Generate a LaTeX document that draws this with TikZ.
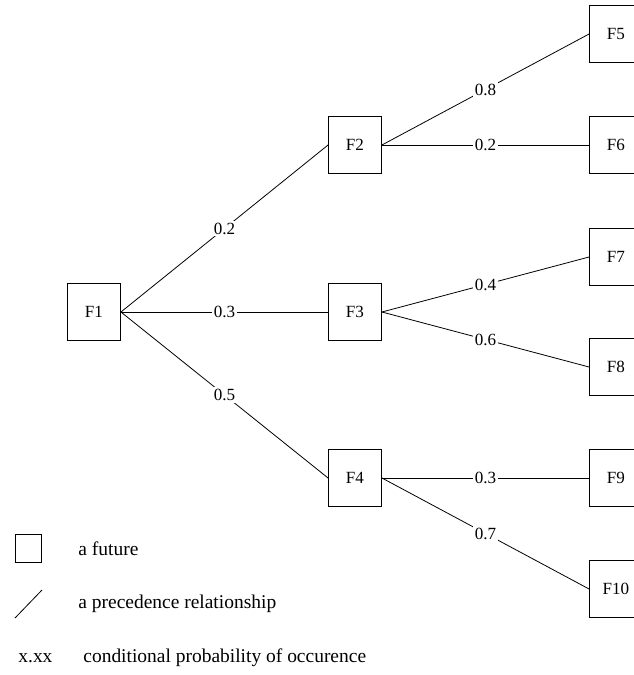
\documentclass[tikz,border=0pt]{standalone}
\usepackage{fontspec}
\setmainfont{Liberation Serif}

\begin{document}
\begin{tikzpicture}[x=0.75pt, y=-0.75pt, line width=0.6pt,
        font=\fontsize{12.8}{15}\selectfont,
        future/.style={draw, minimum width=39.8pt, minimum height=42.5pt, inner sep=0pt},
        prob/.style={fill=white, inner sep=1.5pt},
        keytext/.style={anchor=west, inner sep=0pt, font=\fontsize{14.6}{17}\selectfont}]
            \useasboundingbox (0, 0) rectangle (634, 675);

            \node[future] (F1) at (94, 312) {F1};
            \node[future] (F2) at (355, 145) {F2};
            \node[future] (F3) at (355, 312) {F3};
            \node[future] (F4) at (355, 478) {F4};
            \node[future] (F5) at (616, 34) {F5};
            \node[future] (F6) at (616, 145) {F6};
            \node[future] (F7) at (616, 257) {F7};
            \node[future] (F8) at (616, 367) {F8};
            \node[future] (F9) at (616, 478) {F9};
            \node[future] (F10) at (616, 589) {F10};

            \draw (F1.east) -- node[prob] {0.2} (F2.west);
            \draw (F1.east) -- node[prob] {0.3} (F3.west);
            \draw (F1.east) -- node[prob] {0.5} (F4.west);
            \draw (F2.east) -- node[prob] {0.8} (F5.west);
            \draw (F2.east) -- node[prob] {0.2} (F6.west);
            \draw (F3.east) -- node[prob] {0.4} (F7.west);
            \draw (F3.east) -- node[prob] {0.6} (F8.west);
            \draw (F4.east) -- node[prob] {0.3} (F9.west);
            \draw (F4.east) -- node[prob] {0.7} (F10.west);

            % legend
            \node[draw, minimum width=20pt, minimum height=21pt] (keybox) at (28.5, 548) {};
            \node[keytext] (keyfuture) at (78, 549) {a future};
            \coordinate (keyfrom) at (15, 618);
            \coordinate (keyto) at (42, 590);
            \draw (keyfrom) -- (keyto);
            \node[keytext] (keyedge) at (78, 604) {a precedence relationship};
            \node[keytext] (keyxx) at (18, 658) {x.xx};
            \node[keytext] (keyprob) at (83, 658) {conditional probability of occurence};
        \end{tikzpicture}
\end{document}
